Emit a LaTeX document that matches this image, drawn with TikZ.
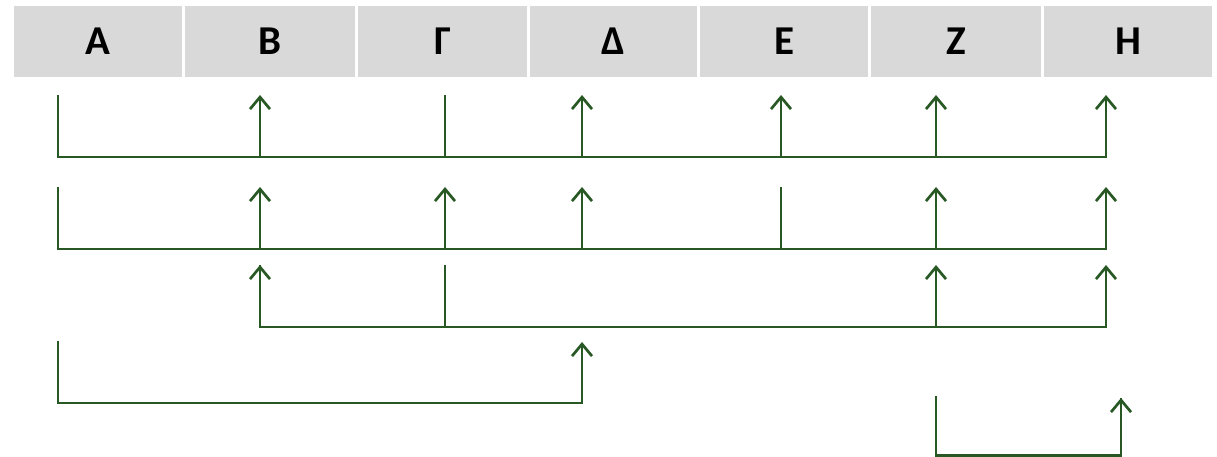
\documentclass[tikz,border=0pt]{standalone}
\usepackage{fontspec}
\setmainfont{Carlito}
\usetikzlibrary{arrows.meta}
\definecolor{linkgreen}{RGB}{40,88,36}
\definecolor{cellgray}{RGB}{217,217,217}
\begin{document}
\begin{tikzpicture}[x=1pt,y=-1pt,
  cell/.style={fill=cellgray, minimum height=71pt, inner sep=0pt, anchor=north west,
    font=\bfseries\fontsize{41}{41}\selectfont},
  link/.style={draw=linkgreen, line width=2.5pt},
  arr/.style={link, -{Straight Barb[length=12pt, width=20pt, line width=2.7pt]}}
]
\useasboundingbox (0,0) rectangle (1217,457);

% header row
\node[cell, minimum width=168pt] (hA) at (14,6)   {A};
\node[cell, minimum width=170pt] (hB) at (185,6)  {B};
\node[cell, minimum width=169pt] (hG) at (358,6)  {Γ};
\node[cell, minimum width=167pt] (hD) at (530,6)  {Δ};
\node[cell, minimum width=168pt] (hE) at (700,6)  {E};
\node[cell, minimum width=170pt] (hZ) at (871,6)  {Z};
\node[cell, minimum width=168pt] (hH) at (1044,6) {H};

% column positions of the connectors
\def\xA{58}\def\xB{260}\def\xG{445}\def\xD{582}\def\xE{781}\def\xZ{936}\def\xH{1106}

% row 1
\foreach \c in {A,B,G,D,E,Z,H}{
  \coordinate (b1\c) at (\csname x\c\endcsname,157);
  \coordinate (t1\c) at (\csname x\c\endcsname,95);
}
\draw[arr] (t1A) -- (b1A) -- (b1H) -- (t1H);
\draw[link] (b1G) -- (t1G);
\foreach \c in {B,D,E,Z}{ \draw[arr] (b1\c) -- (t1\c); }

% row 2
\foreach \c in {A,B,G,D,E,Z,H}{
  \coordinate (b2\c) at (\csname x\c\endcsname,249);
  \coordinate (t2\c) at (\csname x\c\endcsname,187);
}
\draw[arr] (t2A) -- (b2A) -- (b2H) -- (t2H);
\draw[link] (b2E) -- (t2E);
\foreach \c in {B,G,D,Z}{ \draw[arr] (b2\c) -- (t2\c); }

% row 3
\foreach \c in {B,G,Z,H}{
  \coordinate (b3\c) at (\csname x\c\endcsname,327);
  \coordinate (t3\c) at (\csname x\c\endcsname,265);
}
\draw[link] (b3G) -- (t3G);
\draw[arr] (b3Z) -- (t3Z);
\draw[arr] (t3B) -- (b3B) -- (b3H) -- (t3H);
\draw[arr] (b3B) -- (t3B);

% row 4
\coordinate (t4A) at (\xA,341);
\coordinate (b4A) at (\xA,403);
\coordinate (b4D) at (\xD,403);
\coordinate (t4D) at (\xD,342);
\draw[arr] (t4A) -- (b4A) -- (b4D) -- (t4D);

% row 5
\coordinate (t5Z) at (\xZ,396);
\coordinate (b5Z) at (\xZ,455.5);
\coordinate (b5H) at (1121,455.5);
\coordinate (t5H) at (1121,398);
\draw[link] (t5Z) -- (b5Z) -- (b5H) -- (t5H);
\draw[arr] (b5H) -- (t5H);
\end{tikzpicture}
\end{document}
